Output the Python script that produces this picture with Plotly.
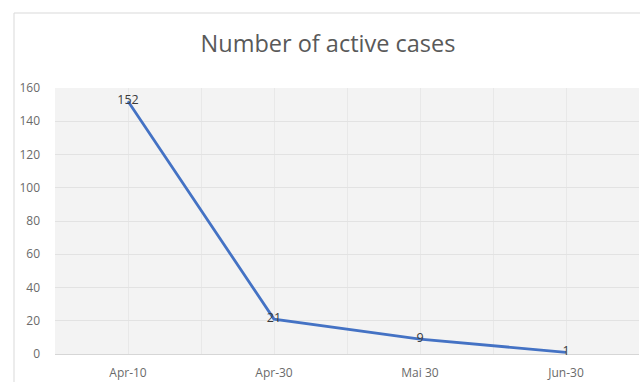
import plotly.graph_objects as go

# Active case counts at each reporting date
dates = ["Apr-10", "Apr-30", "Mai 30", "Jun-30"]
active_cases = [152, 21, 9, 1]
y_ticks = [0, 20, 40, 60, 80, 100, 120, 140, 160]

W, H = 640, 382
L, R, T, B = 55, 1, 88, 28

FONT = "Open Sans, Arial, sans-serif"

x_pos = list(range(len(dates)))
half_steps = [i * 0.5 - 0.5 for i in range(2 * len(dates) + 1)]

fig = go.Figure()
fig.add_trace(go.Scatter(
    x=x_pos,
    y=active_cases,
    mode="lines+text",
    text=[str(v) for v in active_cases],
    textposition="middle center",
    textfont=dict(family=FONT, size=12.5, color="#3a3a3a"),
    line=dict(color="#4472C4", width=2.8),
    cliponaxis=False,
    hoverinfo="x+y",
))

pw = W - L - R
ph = H - T - B
# Outer chart frame (light border starting just inside the page)
fig.add_shape(
    type="path", xref="paper", yref="paper",
    path=(f"M {(14 - L) / pw} {-(H - T - B + 10) / ph} "
          f"L {(14 - L) / pw} {(H - B - 13) / ph} "
          f"L {(W + 10 - L) / pw} {(H - B - 13) / ph}"),
    line=dict(color="#d9d9d9", width=1),
    layer="below",
)

fig.update_layout(
    width=W, height=H,
    margin=dict(l=L, r=R, t=T, b=B),
    paper_bgcolor="white",
    plot_bgcolor="#f3f3f3",
    showlegend=False,
    title=dict(
        text="Number of active cases",
        x=328 / W, xref="container", xanchor="center",
        y=1 - 44 / H, yref="container", yanchor="middle",
        font=dict(family=FONT, size=23.5, color="#595959"),
    ),
    xaxis=dict(
        range=[-0.5, len(dates) - 0.5],
        tickvals=x_pos,
        ticktext=dates,
        showgrid=False,
        zeroline=False,
        showline=False,
        ticks="",
        ticklabelstandoff=10,
        tickfont=dict(family=FONT, size=12, color="#6a6a6a"),
        minor=dict(tickvals=half_steps, showgrid=True, gridcolor="#e8e8e8", gridwidth=1, ticks=""),
    ),
    yaxis=dict(
        range=[0, 160],
        tickvals=y_ticks,
        showgrid=True,
        gridcolor="#e2e2e2",
        gridwidth=1,
        zeroline=True,
        zerolinecolor="#d6d6d6",
        zerolinewidth=1,
        showline=False,
        ticks="",
        ticklabelstandoff=14,
        tickfont=dict(family=FONT, size=12, color="#6a6a6a"),
    ),
)

fig.write_html("out.html")
